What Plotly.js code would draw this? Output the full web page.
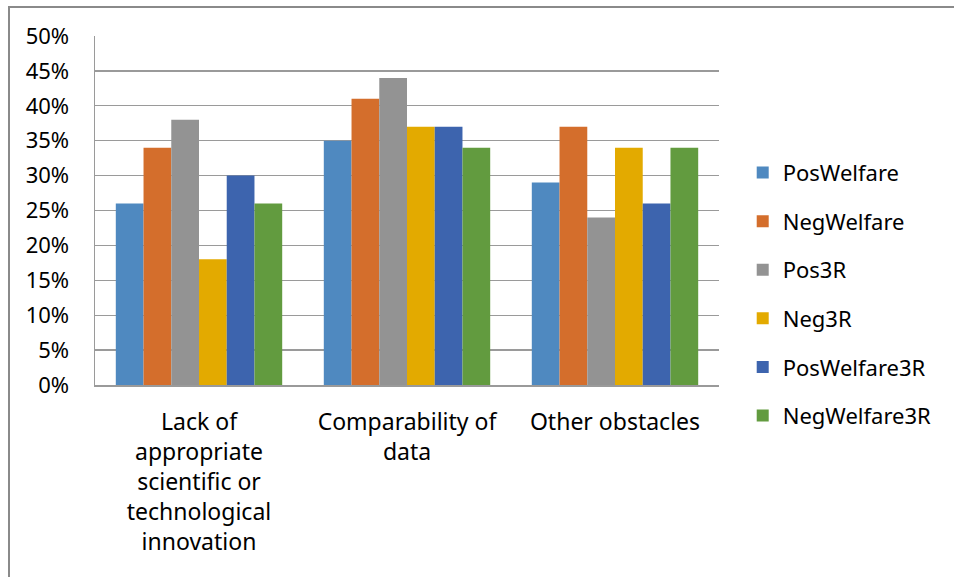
<!DOCTYPE html>
<html>
<head>
<meta charset="utf-8">
<script src="https://cdn.plot.ly/plotly-3.0.1.min.js"></script>
<style>
  html, body { margin: 0; padding: 0; background: #fff; }
  #frame { position: absolute; left: 8px; top: 6px; width: 946px; height: 571px;
           border-left: 2px solid #8a8a8a; border-top: 2px solid #8a8a8a; }
  #chart { width: 944px; height: 569px; }
</style>
</head>
<body>
<div id="frame"><div id="chart"></div></div>
<script>
const categories = [
  "Lack of<br>appropriate<br>scientific or<br>technological<br>innovation",
  "Comparability of<br>data",
  "Other obstacles"
];
const seriesNames = ["PosWelfare", "NegWelfare", "Pos3R", "Neg3R", "PosWelfare3R", "NegWelfare3R"];
const posWelfare   = [0.26, 0.35, 0.29];
const negWelfare   = [0.34, 0.41, 0.37];
const pos3R        = [0.38, 0.44, 0.24];
const neg3R        = [0.18, 0.37, 0.34];
const posWelfare3R = [0.30, 0.37, 0.26];
const negWelfare3R = [0.26, 0.34, 0.34];
const seriesValues = [posWelfare, negWelfare, pos3R, neg3R, posWelfare3R, negWelfare3R];
const colors = ["#4F89C0", "#D46E2C", "#939393", "#E3AA00", "#3D64AE", "#629B3F"];
const yTickVals = [0, 0.05, 0.10, 0.15, 0.20, 0.25, 0.30, 0.35, 0.40, 0.45, 0.50];
const yTickText = ["0%", "5%", "10%", "15%", "20%", "25%", "30%", "35%", "40%", "45%", "50%"];

const font = "Noto Sans, Open Sans, sans-serif";
const traces = seriesNames.map((name, i) => ({
  type: "bar",
  name: name,
  x: categories,
  y: seriesValues[i],
  legendgroup: "g" + i,
  marker: { color: colors[i], line: { width: 0 } },
  hoverinfo: "skip"
}));

const layout = {
  width: 944, height: 569,
  margin: { l: 85, r: 235, t: 28, b: 192 },
  paper_bgcolor: "#ffffff", plot_bgcolor: "#ffffff",
  barmode: "group", bargap: 0.2, bargroupgap: 0,
  font: { family: font, size: 23, color: "#000000" },
  showlegend: true,
  legend: {
    x: 1.038, xanchor: "left", y: 0.26, yanchor: "middle",
    traceorder: "grouped", tracegroupgap: 17,
    font: { family: font, size: 22, color: "#000000" },
    bgcolor: "rgba(0,0,0,0)"
  },
  xaxis: {
    type: "category",
    showgrid: false, zeroline: false,
    showline: true, linecolor: "#9a9a9a", linewidth: 1.5,
    ticks: "outside", ticklen: 16, tickcolor: "rgba(0,0,0,0)",
    tickfont: { family: font, size: 23, color: "#000000" },
    tickangle: 0, fixedrange: true
  },
  yaxis: {
    range: [0, 0.5],
    tickvals: yTickVals, ticktext: yTickText,
    showgrid: true, gridcolor: "#9a9a9a", gridwidth: 1.3,
    zeroline: false,
    showline: true, linecolor: "#9a9a9a", linewidth: 1.5,
    ticks: "outside", ticklen: 20, tickcolor: "rgba(0,0,0,0)",
    tickfont: { family: font, size: 22, color: "#000000" },
    fixedrange: true
  }
};

Plotly.newPlot("chart", traces, layout, { displayModeBar: false, staticPlot: true });
</script>
</body>
</html>
